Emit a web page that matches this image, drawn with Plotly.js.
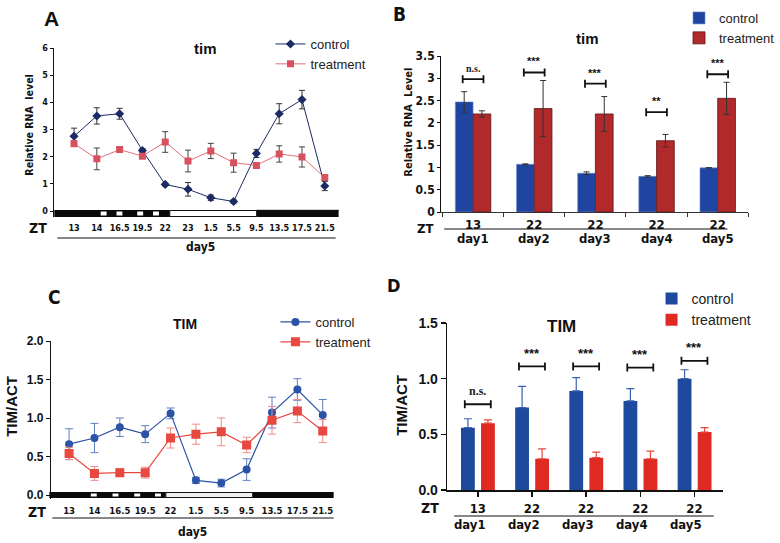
<!DOCTYPE html>
<html>
<head>
<meta charset="utf-8">
<script src="https://cdn.plot.ly/plotly-3.0.1.min.js"></script>
<style>
  html, body { margin: 0; padding: 0; background: #fff; }
  #chart { width: 780px; height: 543px; }
</style>
</head>
<body>
<div id="chart"></div>
<script>
// ---- data ----
// A: tim mRNA, day5 time course
const ztA = ['13', '14', '16.5', '19.5', '22', '23', '1.5', '5.5', '9.5', '13.5', '17.5', '21.5'];
const ctrlA = [2.75, 3.5, 3.58, 2.23, 0.98, 0.8, 0.49, 0.35, 2.12, 3.58, 4.1, 0.92];
const ctrlAErr = [0.3, 0.3, 0.2, 0.07, 0.05, 0.25, 0.1, 0.06, 0.15, 0.37, 0.34, 0.17];
const trtA = [2.48, 1.92, 2.26, 2.02, 2.54, 1.84, 2.21, 1.78, 1.68, 2.1, 1.99, 1.23];
const trtAErr = [0.1, 0.4, 0.07, 0.07, 0.38, 0.4, 0.28, 0.35, 0.05, 0.3, 0.37, 0.07];

// B: tim mRNA at one time point per day
const daysB = ['day1', 'day2', 'day3', 'day4', 'day5'];
const ztB = ['13', '22', '22', '22', '22'];
const ctrlB = [2.47, 1.07, 0.87, 0.8, 0.99];
const ctrlBErr = [0.23, 0.01, 0.03, 0.015, 0.005];
const trtB = [2.2, 2.32, 2.2, 1.6, 2.55];
const trtBErr = [0.07, 0.63, 0.39, 0.14, 0.36];
const sigB = ['n.s.', '***', '***', '**', '***'];
const sigBy = [2.98, 3.13, 2.88, 2.24, 3.09];

// C: TIM protein, day5 time course
const ztC = ['13', '14', '16.5', '19.5', '22', '1.5', '5.5', '9.5', '13.5', '17.5', '21.5'];
const ctrlC = [0.66, 0.74, 0.88, 0.79, 1.06, 0.19, 0.155, 0.33, 1.07, 1.37, 1.04];
const ctrlCErr = [0.2, 0.19, 0.12, 0.11, 0.07, 0.04, 0.05, 0.14, 0.2, 0.14, 0.2];
const trtC = [0.54, 0.28, 0.29, 0.29, 0.74, 0.79, 0.82, 0.65, 0.97, 1.09, 0.83];
const trtCErr = [0.08, 0.09, 0.05, 0.07, 0.13, 0.13, 0.18, 0.1, 0.18, 0.15, 0.15];

// D: TIM protein at one time point per day
const daysD = ['day1', 'day2', 'day3', 'day4', 'day5'];
const ztD = ['13', '22', '22', '22', '22'];
const ctrlD = [0.56, 0.74, 0.89, 0.8, 1.0];
const ctrlDErr = [0.08, 0.19, 0.12, 0.11, 0.08];
const trtD = [0.6, 0.28, 0.29, 0.28, 0.52];
const trtDErr = [0.03, 0.09, 0.05, 0.07, 0.04];
const sigD = ['n.s.', '***', '***', '***', '***'];
const sigDy = [0.77, 1.11, 1.11, 1.10, 1.16];

// ---- helpers: pixel -> paper ----
const W = 780, H = 543;
const px = x => x / W;
const py = y => 1 - y / H;

const NARROW = 'DejaVu Sans Condensed, Liberation Sans Narrow, sans-serif';
const ARIAL = 'Liberation Sans, Arial, sans-serif';

const traces = [
    // A
    {
        x: ztA, y: ctrlA, name: 'control', type: 'scatter', mode: 'lines+markers',
        xaxis: 'x', yaxis: 'y', legend: 'legend',
        line: { color: '#1c2b63', width: 1 },
        marker: { symbol: 'diamond', size: 7, color: '#1c2b63' },
        error_y: { type: 'data', array: ctrlAErr, color: '#333', thickness: 1, width: 3 }
    },
    {
        x: ztA, y: trtA, name: 'treatment', type: 'scatter', mode: 'lines+markers',
        xaxis: 'x', yaxis: 'y', legend: 'legend',
        line: { color: '#e0707e', width: 1 },
        marker: { symbol: 'square', size: 7, color: '#d9505f' },
        error_y: { type: 'data', array: trtAErr, color: '#444', thickness: 1, width: 3 }
    },
    // B
    {
        x: daysB, y: ctrlB, name: 'control', type: 'bar',
        xaxis: 'x2', yaxis: 'y2', legend: 'legend2',
        offset: -0.29, width: 0.29,
        marker: { color: '#1f45a0', line: { color: '#6f8fd0', width: 0.6 } },
        error_y: { type: 'data', array: ctrlBErr, color: '#333', thickness: 1, width: 3 }
    },
    {
        x: daysB, y: trtB, name: 'treatment', type: 'bar',
        xaxis: 'x2', yaxis: 'y2', legend: 'legend2',
        offset: 0, width: 0.29,
        marker: { color: '#b2292b', line: { color: '#5a1414', width: 0.8 } },
        error_y: { type: 'data', array: trtBErr, color: '#333', thickness: 1, width: 3 }
    },
    // C
    {
        x: ztC, y: ctrlC, name: 'control', type: 'scatter', mode: 'lines+markers',
        xaxis: 'x3', yaxis: 'y3', legend: 'legend3',
        line: { color: '#2b53a6', width: 1.2 },
        marker: { symbol: 'circle', size: 8, color: '#2b53a6' },
        error_y: { type: 'data', array: ctrlCErr, color: '#5f7fc0', thickness: 1, width: 4 }
    },
    {
        x: ztC, y: trtC, name: 'treatment', type: 'scatter', mode: 'lines+markers',
        xaxis: 'x3', yaxis: 'y3', legend: 'legend3',
        line: { color: '#e8483f', width: 1.2 },
        marker: { symbol: 'square', size: 9, color: '#e8483f' },
        error_y: { type: 'data', array: trtCErr, color: '#f08a88', thickness: 1, width: 4 }
    },
    // D
    {
        x: daysD, y: ctrlD, name: 'control', type: 'bar',
        xaxis: 'x4', yaxis: 'y4', legend: 'legend4',
        offset: -0.31, width: 0.255,
        marker: { color: '#1d4a9c' },
        error_y: { type: 'data', symmetric: false, array: ctrlDErr, arrayminus: ctrlDErr.map(() => 0),
                   color: '#3a62b4', thickness: 1.2, width: 4 }
    },
    {
        x: daysD, y: trtD, name: 'treatment', type: 'bar',
        xaxis: 'x4', yaxis: 'y4', legend: 'legend4',
        offset: 0.06, width: 0.255,
        marker: { color: '#de2a22' },
        error_y: { type: 'data', symmetric: false, array: trtDErr, arrayminus: trtDErr.map(() => 0),
                   color: '#e4463e', thickness: 1.2, width: 4 }
    }
];

const shapes = [];
const annotations = [];

function text(x, y, t, size, opts) {
    annotations.push(Object.assign({
        xref: 'paper', yref: 'paper', x: px(x), y: py(y), text: t, showarrow: false,
        xanchor: 'center', yanchor: 'middle',
        font: { family: ARIAL, size: size, color: '#111', weight: 'bold' }
    }, opts || {}));
}
function hline(x0, x1, y, w) {
    shapes.push({ type: 'line', xref: 'paper', yref: 'paper', x0: px(x0), x1: px(x1), y0: py(y), y1: py(y),
                  line: { color: '#111', width: w || 1.2 } });
}
function box(x0, x1, y0, y1, fill, lineColor) {
    shapes.push({ type: 'rect', xref: 'paper', yref: 'paper', x0: px(x0), x1: px(x1), y0: py(y1), y1: py(y0),
                  fillcolor: fill, line: { color: lineColor || fill, width: lineColor ? 1 : 0 } });
}

// panel letters
text(52, 18, 'A', 21, { font: { family: ARIAL, size: 21, color: '#111', weight: 'bold' } });
text(405, 14, 'B', 19, { font: { family: NARROW, size: 19, color: '#111', weight: 'bold' } });
text(55, 297, 'C', 19, { font: { family: NARROW, size: 19, color: '#111', weight: 'bold' } });
text(399, 285, 'D', 18, { font: { family: NARROW, size: 18, color: '#111', weight: 'bold' } });

// titles
text(208, 48, 'tim', 15);
text(595, 38, 'tim', 15);
text(187, 324, 'TIM', 14);
text(569, 326, 'TIM', 17);

// y titles
text(29, 125, 'Relative RNA  level', 10, { textangle: -90, font: { family: NARROW, size: 10.5, color: '#111', weight: 'bold' } });
text(414, 122, 'Relative RNA  Level', 11, { textangle: -90, font: { family: NARROW, size: 11, color: '#111', weight: 'bold' } });
text(11, 406, 'TIM/ACT', 15, { textangle: -90 });
text(406, 405, 'TIM/ACT', 15, { textangle: -90 });

// ZT labels, separating lines, day labels
const zt = { family: NARROW, size: 14, color: '#111', weight: 'bold' };
text(38, 228, 'ZT', 14, { font: zt });
text(431, 228, 'ZT', 13, { font: { family: NARROW, size: 13, color: '#111', weight: 'bold' } });
text(37, 512, 'ZT', 14, { font: zt });
text(436, 508, 'ZT', 14, { font: zt });
hline(58, 340, 238);
hline(450, 737, 229);
hline(53, 338, 518);
hline(460, 723, 516);
const dayFont = { family: NARROW, size: 12, color: '#111', weight: 'bold' };
text(203, 247, 'day5', 12, { font: dayFont });
text(195, 532, 'day5', 12, { font: dayFont });
daysB.forEach((d, i) => {
    annotations.push({ xref: 'x2', yref: 'paper', x: i, y: py(238), text: d, showarrow: false,
                       yanchor: 'middle', font: { family: NARROW, size: 13, color: '#111', weight: 'bold' } });
});
daysD.forEach((d, i) => {
    annotations.push({ xref: 'x4', yref: 'paper', x: i - 0.15, y: py(524), text: d, showarrow: false,
                       yanchor: 'middle', font: { family: NARROW, size: 13, color: '#111', weight: 'bold' } });
});

// light/dark bars under the time courses
box(55, 172, 210, 217, '#0a0a0a');
[[102, 108], [118, 124], [139, 145], [155, 161]].forEach(s => box(s[0], s[1], 211.5, 215.5, '#ffffff'));
box(172, 260, 210.5, 216.5, '#ffffff', '#111');
box(260, 343, 210, 217, '#0a0a0a');
hline(260, 343, 210.3, 1);

box(50, 168, 492, 498, '#0a0a0a');
[[92, 98], [114, 120], [136, 142], [157, 163]].forEach(s => box(s[0], s[1], 493.5, 496.5, '#ffffff'));
box(168, 256, 492.5, 497.5, '#f0f0f0', '#111');
box(256, 338, 492, 498, '#0a0a0a');

// significance brackets
function bracket(xa, ya, i, y, half, label, shift, lab) {
    shapes.push({ type: 'line', xref: xa, yref: ya, x0: i - half, x1: i + half, y0: y, y1: y,
                  line: { color: '#111', width: 1.8 } });
    [i - half, i + half].forEach(xc => shapes.push({
        type: 'line', xref: xa, yref: ya, xsizemode: 'scaled', ysizemode: 'pixel', yanchor: y,
        x0: xc, x1: xc, y0: -4, y1: 4, line: { color: '#111', width: 1.8 }
    }));
    annotations.push({ xref: xa, yref: ya, x: i, y: y, yshift: shift, text: label, showarrow: false,
                       font: lab });
}
sigB.forEach((s, i) => bracket('x2', 'y2', i, sigBy[i], 0.17, s, 11,
    s === 'n.s.' ? { family: 'Liberation Serif, serif', size: 10, color: '#222', weight: 'bold' }
                 : { family: ARIAL, size: 11, color: '#111', weight: 'bold' }));
sigD.forEach((s, i) => bracket('x4', 'y4', i, sigDy[i], 0.24, s, 13,
    s === 'n.s.' ? { family: 'Liberation Serif, serif', size: 12, color: '#222', weight: 'bold' }
                 : { family: ARIAL, size: 13, color: '#111', weight: 'bold' }));

const tickNarrow = (sz) => ({ family: NARROW, size: sz, color: '#111', weight: 'bold' });

const layout = {
    width: W, height: H,
    margin: { l: 0, r: 0, t: 0, b: 0 },
    paper_bgcolor: '#fff', plot_bgcolor: 'rgba(0,0,0,0)',
    showlegend: true,
    barmode: 'overlay',
    // A
    xaxis: {
        domain: [px(55), px(343)], anchor: 'y', type: 'category',
        range: [-0.866, 11.606], showline: false, showgrid: false, zeroline: false,
        ticks: '', tickangle: 0, tickfont: tickNarrow(9), ticklabelstandoff: 4
    },
    yaxis: {
        domain: [py(217), py(48)], anchor: 'x', range: [-0.22, 6],
        tickvals: [0, 1, 2, 3, 4, 5, 6], showline: true, linecolor: '#111', linewidth: 1.5,
        ticks: 'outside', ticklen: 3, tickcolor: '#111', showgrid: false, zeroline: false,
        tickfont: tickNarrow(9)
    },
    // B
    xaxis2: {
        domain: [px(447), px(758)], anchor: 'y2', type: 'category',
        range: [-0.52, 4.5], showline: true, linecolor: '#333', linewidth: 1,
        ticks: 'outside', tickson: 'boundaries', ticklen: 4, tickcolor: '#333', tickangle: 0,
        tickvals: daysB, ticktext: ztB, tickfont: tickNarrow(13), showgrid: false
    },
    yaxis2: {
        domain: [py(212), py(56)], anchor: 'x2', range: [0, 3.5], dtick: 0.5,
        showline: true, linecolor: '#111', linewidth: 1.2, ticks: 'outside', ticklen: 3,
        tickcolor: '#111', showgrid: false, zeroline: false, tickfont: tickNarrow(12)
    },
    // C
    xaxis3: {
        domain: [px(52), px(339)], anchor: 'y3', type: 'category',
        range: [-0.70, 10.47], showline: false, showgrid: false, zeroline: false,
        ticks: '', tickangle: 0, tickfont: tickNarrow(9.5), ticklabelstandoff: 4
    },
    yaxis3: {
        domain: [py(499), py(341)], anchor: 'x3', range: [-0.052, 2], tickvals: [0, 0.5, 1, 1.5, 2],
        tickformat: '.1f', showline: true, linecolor: '#111', linewidth: 1.5, ticks: 'outside',
        ticklen: 4, tickcolor: '#111', showgrid: false, zeroline: false,
        tickfont: { family: ARIAL, size: 12, color: '#111', weight: 'bold' }
    },
    // D
    xaxis4: {
        domain: [px(453), px(732)], anchor: 'y4', type: 'category',
        range: [-0.565, 4.52], showline: true, linecolor: '#111', linewidth: 1.5,
        ticks: 'outside', ticklen: 5, tickcolor: '#111', tickwidth: 1.5, tickangle: 0,
        tickvals: daysD, ticktext: ztD, tickfont: tickNarrow(13), ticklabelstandoff: 1,
        showgrid: false
    },
    yaxis4: {
        domain: [py(490), py(323)], anchor: 'x4', range: [0, 1.5], tickvals: [0, 0.5, 1, 1.5],
        tickformat: '.1f', showline: true, linecolor: '#111', linewidth: 1.5, ticks: 'outside',
        ticklen: 5, tickcolor: '#111', tickwidth: 1.5, showgrid: false, zeroline: false,
        tickfont: { family: ARIAL, size: 14, color: '#111', weight: 'bold' }
    },
    legend: {
        x: px(274), y: py(29), xanchor: 'left', yanchor: 'top', bgcolor: 'rgba(0,0,0,0)',
        font: { family: ARIAL, size: 13, color: '#222' }
    },
    legend2: {
        x: px(688), y: py(3), xanchor: 'left', yanchor: 'top', bgcolor: 'rgba(0,0,0,0)',
        font: { family: ARIAL, size: 13, color: '#222' }
    },
    legend3: {
        x: px(279), y: py(307), xanchor: 'left', yanchor: 'top', bgcolor: 'rgba(0,0,0,0)',
        font: { family: ARIAL, size: 13, color: '#222' }
    },
    legend4: {
        x: px(660), y: py(283), xanchor: 'left', yanchor: 'top', bgcolor: 'rgba(0,0,0,0)',
        font: { family: ARIAL, size: 14, color: '#222' }
    },
    shapes: shapes,
    annotations: annotations
};

Plotly.newPlot('chart', traces, layout, { staticPlot: true });
</script>
</body>
</html>
